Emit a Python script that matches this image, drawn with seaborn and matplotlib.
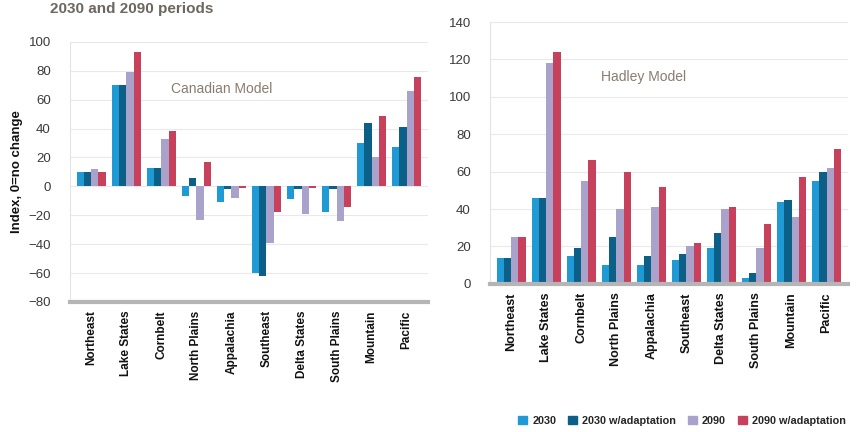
import matplotlib
matplotlib.use("Agg")
import matplotlib.pyplot as plt
import matplotlib.patches as mpatches
import seaborn as sns
import pandas as pd

# Regions and scenario series
regions = ["Northeast", "Lake States", "Cornbelt", "North Plains", "Appalachia",
           "Southeast", "Delta States", "South Plains", "Mountain", "Pacific"]
periods = ["2030", "2030 w/adaptation", "2090", "2090 w/adaptation"]

# Canadian model index values (0 = no change)
canadian_2030 = [10, 70, 13, -7, -11, -60, -9, -18, 30, 27]
canadian_2030_adapt = [10, 70, 13, 6, -2, -62, -2, -2, 44, 41]
canadian_2090 = [12, 79, 33, -23, -8, -39, -19, -24, 20, 66]
canadian_2090_adapt = [10, 93, 38, 17, -1, -18, -1, -14, 49, 76]

# Hadley model index values (0 = no change)
hadley_2030 = [14, 46, 15, 10, 10, 13, 19, 3, 44, 55]
hadley_2030_adapt = [14, 46, 19, 25, 15, 16, 27, 6, 45, 60]
hadley_2090 = [25, 118, 55, 40, 41, 20, 40, 19, 36, 62]
hadley_2090_adapt = [25, 124, 66, 60, 52, 22, 41, 32, 57, 72]

colors = ["#1f9ad4", "#0c5f86", "#a9a2cb", "#c8415c"]


def long_frame(series):
    rows = []
    for period, values in zip(periods, series):
        for region, v in zip(regions, values):
            rows.append({"region": region, "period": period, "value": v})
    return pd.DataFrame(rows)


canadian = long_frame([canadian_2030, canadian_2030_adapt, canadian_2090, canadian_2090_adapt])
hadley = long_frame([hadley_2030, hadley_2030_adapt, hadley_2090, hadley_2090_adapt])

sns.set_theme(style="white")
plt.rcParams["font.family"] = ["Liberation Sans", "DejaVu Sans"]

fig = plt.figure(figsize=(8.57, 4.32), dpi=100)
ax_c = fig.add_axes([0.082, 0.301, 0.417, 0.602])
ax_h = fig.add_axes([0.572, 0.343, 0.417, 0.606])


def draw(ax, df, ylim, step, floor_y, label_size):
    sns.barplot(data=df, x="region", y="value", hue="period", hue_order=periods,
                order=regions, palette=colors, width=0.82, saturation=1,
                ax=ax, legend=False, linewidth=0)
    ax.set_ylim(*ylim)
    ax.set_xlim(-0.6, len(regions) - 0.4)
    ax.set_yticks(range(ylim[0], ylim[1] + 1, step))
    ax.yaxis.grid(True, color="#e9e9e9", linewidth=0.8)
    ax.set_axisbelow(True)
    for s in ["top", "right"]:
        ax.spines[s].set_visible(False)
    ax.spines["left"].set_color("#e4e4e4")
    ax.spines["left"].set_linewidth(0.8)
    ax.spines["bottom"].set_color("#b5b5b5")
    ax.spines["bottom"].set_linewidth(3)
    ax.spines["bottom"].set_position(("data", floor_y))
    ax.tick_params(axis="y", colors="#3a3a3a", labelsize=9.5, length=0, pad=14)
    ax.tick_params(axis="x", length=0, pad=6)
    ax.set_xlabel("")
    ax.set_ylabel("")
    ax.set_xticks(range(len(regions)))
    ax.set_xticklabels(regions, rotation=90, fontsize=label_size, fontweight="bold", color="#111111")


draw(ax_c, canadian, (-80, 100), 20, -80, 8.5)
draw(ax_h, hadley, (0, 140), 20, 0, 9)

ax_c.set_ylabel("Index, 0=no change", fontsize=9.5, fontweight="bold", color="#111111", labelpad=4)

ax_c.text(0.425, 0.82, "Canadian Model", transform=ax_c.transAxes, ha="center", va="center",
          fontsize=10, color="#8a7c70")
ax_h.text(0.43, 0.79, "Hadley Model", transform=ax_h.transAxes, ha="center", va="center",
          fontsize=10, color="#8a7c70")

# Figure heading along the top edge
fig.text(50 / 857, 1 - 2 / 432, "2030 and 2090 periods", ha="left", va="top",
         fontsize=11, fontweight="bold", color="#6e6660")

handles = [mpatches.Patch(color=c, label=p) for c, p in zip(colors, periods)]
fig.legend(handles=handles, loc="center", bbox_to_anchor=(682 / 857, 1 - 421 / 432),
           ncol=4, frameon=False, handlelength=0.8, handleheight=0.8,
           handletextpad=0.5, columnspacing=1.1,
           prop={"weight": "bold", "size": 7.8})

fig.savefig("out.png", dpi=100, facecolor="white")
